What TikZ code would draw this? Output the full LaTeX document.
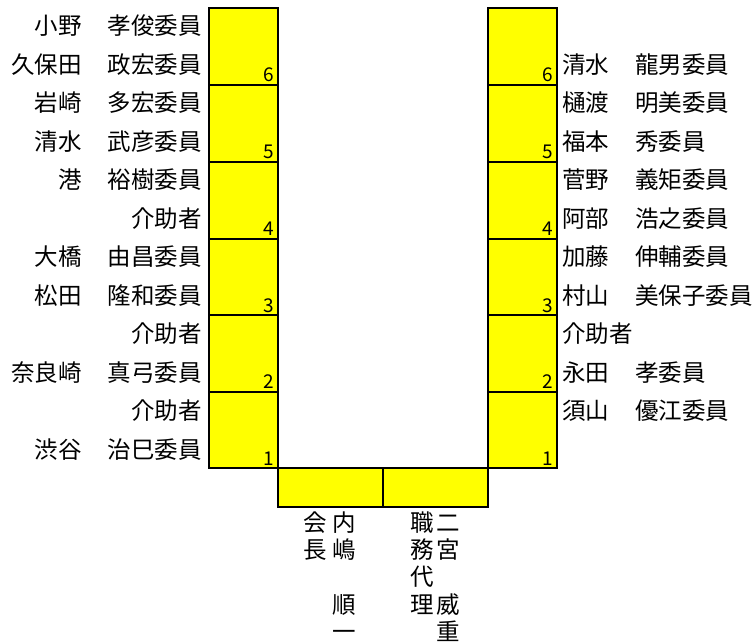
\documentclass[tikz,border=0pt]{standalone}
\usepackage{fontspec}
\setmainfont{Noto Sans CJK JP}
\definecolor{seatyellow}{RGB}{255,255,0}
\tikzset{
  seat/.style={draw=black, line width=2bp, fill=seatyellow, inner sep=0pt, minimum width=69bp, minimum height=76.7bp},
  benchseat/.style={draw=black, line width=2bp, fill=seatyellow, inner sep=0pt, minimum width=105bp, minimum height=39bp},
  lbl/.style={inner sep=0pt, font=\fontsize{23.5bp}{27bp}\selectfont},
  num/.style={inner sep=0pt, font=\fontsize{19bp}{21bp}\selectfont, anchor=base east}
}
\begin{document}
\begin{tikzpicture}[x=1bp,y=-1bp]
\useasboundingbox (0,0) rectangle (755,642);
% seat boxes
\foreach \k/\yc in {6/46.5,5/123.5,4/200.5,3/277,2/353.5,1/430}{
  \node[seat] (L\k) at (243.5,\yc) {};
  \node[seat] (R\k) at (522.5,\yc) {};
}
\node[benchseat] (B1) at (330.5,487.5) {};
\node[benchseat] (B2) at (435.5,487.5) {};
% numbers
\foreach \k in {1,...,6}{
  \node[num] (nL\k) at ([xshift=-4.5bp,yshift=4bp]L\k.south east) {\k};
  \node[num] (nR\k) at ([xshift=-4.5bp,yshift=4bp]R\k.south east) {\k};
}
% left labels (baseline = center + 8.8)
\foreach \i/\s/\g in {1/小野/孝俊委員,2/久保田/政宏委員,3/岩崎/多宏委員,4/清水/武彦委員,5/港/裕樹委員,7/大橋/由昌委員,8/松田/隆和委員,10/奈良崎/真弓委員,12/渋谷/治巳委員}{
  \pgfmathsetmacro{\yb}{26+(\i-1)*38.5+8.8}
  \node[lbl, anchor=base east] (ls\i) at (82,\yb) {\s};
  \node[lbl, anchor=base east] (lg\i) at (202,\yb) {\g};
}
\foreach \i in {6,9,11}{
  \pgfmathsetmacro{\yb}{26+(\i-1)*38.5+8.8}
  \node[lbl, anchor=base east] (la\i) at (202,\yb) {介助者};
}
% right labels
\foreach \i/\s/\g in {2/清水/龍男委員,3/樋渡/明美委員,4/福本/秀委員,5/菅野/義矩委員,6/阿部/浩之委員,7/加藤/伸輔委員,8/村山/美保子委員,10/永田/孝委員,11/須山/優江委員}{
  \pgfmathsetmacro{\yb}{26+(\i-1)*38.5+8.8}
  \node[lbl, anchor=base west] (rs\i) at (562,\yb) {\s};
  \node[lbl, anchor=base west] (rg\i) at (635,\yb) {\g};
}
\pgfmathsetmacro{\yb}{26+8*38.5+8.8}
\node[lbl, anchor=base west] (ra9) at (562,\yb) {介助者};
% bottom vertical texts
\foreach \r/\c in {1/会,2/長}{
  \pgfmathsetmacro{\yb}{522.5+(\r-1)*27.3+8.8}
  \node[lbl, anchor=base] (va\r) at (315.5,\yb) {\c};
}
\foreach \r/\c in {1/内,2/嶋,4/順,5/一}{
  \pgfmathsetmacro{\yb}{522.5+(\r-1)*27.3+8.8}
  \node[lbl, anchor=base] (vb\r) at (344,\yb) {\c};
}
\foreach \r/\c in {1/職,2/務,3/代,4/理}{
  \pgfmathsetmacro{\yb}{522.5+(\r-1)*27.3+8.8}
  \node[lbl, anchor=base] (vc\r) at (422,\yb) {\c};
}
\foreach \r/\c in {1/二,2/宮,4/威,5/重}{
  \pgfmathsetmacro{\yb}{522.5+(\r-1)*27.3+8.8}
  \node[lbl, anchor=base] (vd\r) at (448,\yb) {\c};
}
\end{tikzpicture}
\end{document}
